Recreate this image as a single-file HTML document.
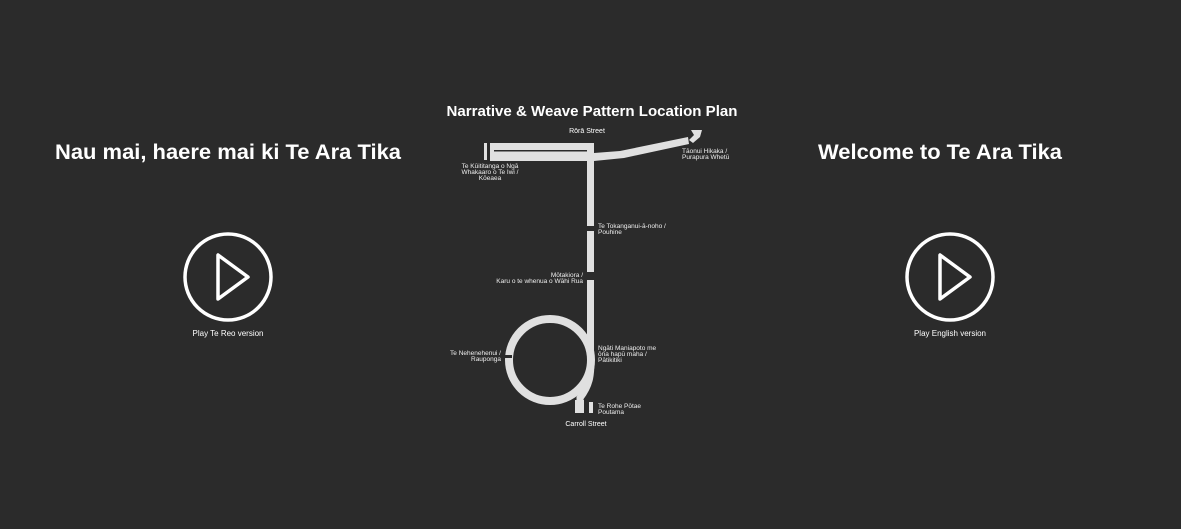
<!DOCTYPE html>
<html><head><meta charset="utf-8"><style>
html,body{margin:0;padding:0;background:#2b2b2b;width:1181px;height:529px;overflow:hidden}
svg{display:block}
text{font-family:"Liberation Sans",sans-serif;fill:#fff}
.s{font-size:6.5px;fill:#eee}
</style></head><body>
<svg width="1181" height="529" viewBox="0 0 1181 529">
<rect width="1181" height="529" fill="#2b2b2b"/>
<text x="228" y="159" text-anchor="middle" font-size="21" font-weight="bold" textLength="346" lengthAdjust="spacingAndGlyphs">Nau mai, haere mai ki Te Ara Tika</text>
<text x="940" y="159" text-anchor="middle" font-size="21" font-weight="bold" textLength="244" lengthAdjust="spacingAndGlyphs">Welcome to Te Ara Tika</text>
<text x="592" y="116" text-anchor="middle" font-size="15" font-weight="bold" textLength="291" lengthAdjust="spacingAndGlyphs">Narrative &amp; Weave Pattern Location Plan</text>

<g fill="none" stroke="#fff" stroke-width="3.5" stroke-linejoin="round">
<circle cx="228" cy="277" r="43"/>
<path d="M218 255 L218 299 L248 277 Z"/>
<circle cx="950" cy="277" r="43"/>
<path d="M940 255 L940 299 L970 277 Z"/>
</g>
<text x="228" y="336" text-anchor="middle" font-size="8">Play Te Reo version</text>
<text x="950" y="336" text-anchor="middle" font-size="8">Play English version</text>

<g fill="#e0e0e0">
<rect x="484" y="143" width="3" height="17"/>
<rect x="490" y="143" width="104" height="18"/>
<rect x="587" y="143" width="7" height="83"/>
<rect x="587" y="231" width="7" height="41"/>
<rect x="587" y="280" width="7" height="72"/>
<path d="M594 153 L620 151 L688 137 L689 144 L624 158 L594 161 Z"/>
<path d="M691 130 L702 130 L700 137 L693 143 L689 140 L694 135 Z"/>
<rect x="575" y="400" width="9" height="13"/>
<rect x="589" y="402" width="4" height="11"/>
</g>
<rect x="494" y="150" width="93" height="1.5" fill="#2b2b2b"/>
<circle cx="550" cy="360" r="41" fill="none" stroke="#e0e0e0" stroke-width="8"/>
<rect x="502" y="355" width="10" height="3" fill="#2b2b2b"/>
<path d="M590.5 350 C592 375 590 385 580 398 L580 402" fill="none" stroke="#e0e0e0" stroke-width="7"/>

<text x="587" y="133" text-anchor="middle" font-size="7" fill="#eee">Rōrā Street</text>
<text x="586" y="426" text-anchor="middle" font-size="7" fill="#eee">Carroll Street</text>
<text class="s" x="490" y="168" text-anchor="middle">Te Kūititanga o Ngā</text>
<text class="s" x="490" y="174" text-anchor="middle">Whakaaro o Te Iwi /</text>
<text class="s" x="490" y="180" text-anchor="middle">Kōeaea</text>
<text class="s" x="682" y="153">Tāonui Hikaka /</text>
<text class="s" x="682" y="159">Purapura Whetū</text>
<text class="s" x="598" y="228">Te Tokanganui-ā-noho /</text>
<text class="s" x="598" y="234">Pouhine</text>
<text class="s" x="583" y="277" text-anchor="end">Mōtakiora /</text>
<text class="s" x="583" y="283" text-anchor="end">Karu o te whenua o Wāhi Rua</text>
<text class="s" x="501" y="355" text-anchor="end">Te Nehenehenui /</text>
<text class="s" x="501" y="361" text-anchor="end">Rauponga</text>
<text class="s" x="598" y="350">Ngāti Maniapoto me</text>
<text class="s" x="598" y="356">ōna hapū maha /</text>
<text class="s" x="598" y="362">Pātikitiki</text>
<text class="s" x="598" y="408">Te Rohe Pōtae</text>
<text class="s" x="598" y="414">Poutama</text>
</svg>
</body></html>
